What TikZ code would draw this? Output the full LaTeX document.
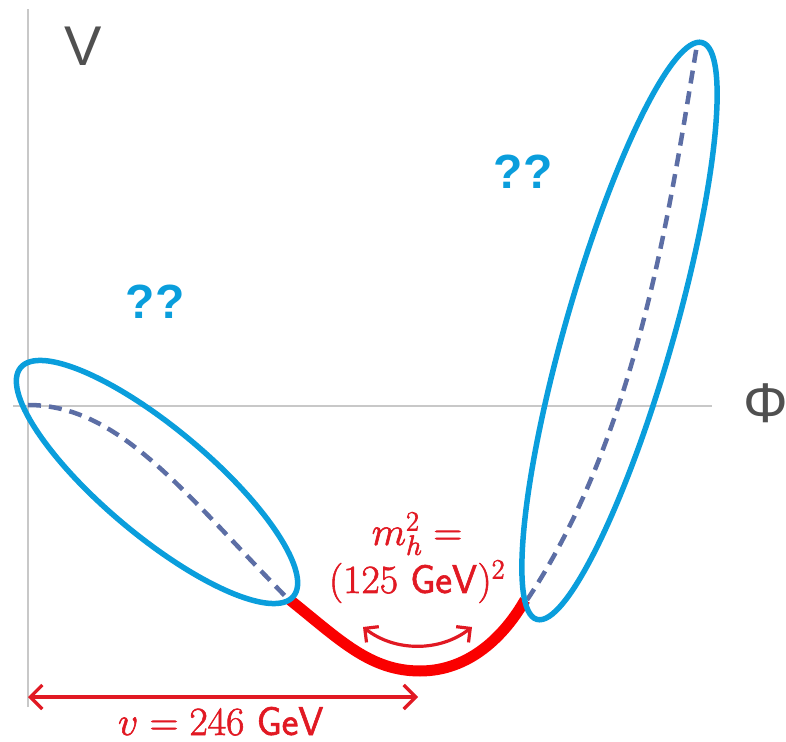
\RequirePackage{fix-cm}
\documentclass[tikz,border=0pt]{standalone}
\usepackage[no-math]{fontspec}
\newfontfamily\arialfont{Liberation Sans}
\usetikzlibrary{arrows.meta}
\definecolor{axisgray}{RGB}{200,200,200}
\definecolor{labelgray}{RGB}{80,80,80}
\definecolor{ellblue}{RGB}{10,158,220}
\definecolor{dashslate}{RGB}{92,110,165}
\definecolor{curvered}{RGB}{250,0,0}
\definecolor{textred}{RGB}{225,25,35}
\newcommand{\heavytext}[1]{\special{pdf:literal direct 2 Tr 0.6 w}#1\special{pdf:literal direct 0 Tr}}
\tikzset{
  axisline/.style={draw=axisgray, line width=1.5pt},
  axislabel/.style={text=labelgray, font=\arialfont\fontsize{56}{60}\selectfont, inner sep=0pt},
  qlabel/.style={text=ellblue, font=\arialfont\bfseries\fontsize{48}{52}\selectfont, inner sep=0pt},
  regionell/.style={draw=ellblue, line width=5.5pt},
  potdash/.style={draw=dashslate, line width=4.5pt, dash pattern=on 13pt off 8pt},
  minimum/.style={draw=curvered, line width=11pt},
  redarrow/.style={draw=textred, line width=3.2pt},
  redtext/.style={text=textred, font=\fontsize{40}{48}\selectfont, inner sep=0pt},
}
\begin{document}
\begin{tikzpicture}[x=1pt,y=1pt]
\useasboundingbox (0,0) rectangle (786,741);
% axes
\coordinate (vtop) at (28,732);
\coordinate (vbot) at (28,34);
\coordinate (hleft) at (13,335);
\coordinate (hright) at (712,335);
\draw[axisline] (vbot) -- (vtop);
\draw[axisline] (hleft) -- (hright);
\node[axislabel] (V) at (83,695) {V};
\node[axislabel] (Phi) at (766,338) {Φ};
% named points
\coordinate (origin) at (28,336);
\coordinate (lend) at (287,143);
\coordinate (rstart) at (527,141);
\coordinate (rtop) at (697,696);
\coordinate (redL) at (290,141);
\coordinate (redR) at (525,141);
\coordinate (redMin) at (420,70);
% dashed potential branches
\draw[potdash] (origin) .. controls (118,336) and (181,252) .. (lend);
\draw[potdash] (rstart) .. controls (640,310) and (672,548) .. (rtop);
% red minimum region
\draw[minimum] (redL) .. controls (340,101) and (370,70) .. (redMin)
  .. controls (470,70) and (505,106) .. (redR);
% ellipses
\draw[regionell] (157,259) ellipse[x radius=178, y radius=53.5, rotate=-40];
\draw[regionell] (619.5,410) ellipse[x radius=300, y radius=54, rotate=74];
% question marks
\node[qlabel] (q1) at (155,439) {??};
\node[qlabel] (q2) at (523,569) {??};
% curvature arrow
\coordinate (cL) at (363,114);
\coordinate (cR) at (472,114);
\draw[redarrow, {Straight Barb[length=10pt,width=20pt]}-{Straight Barb[length=10pt,width=20pt]}]
  (cL) .. controls (395,89) and (440,89) .. (cR);
\node[redtext, anchor=base] (mh) at (417,196) {\heavytext{$m_h^2 =$}};
\node[redtext, anchor=base] (mval) at (417,148) {\heavytext{$(125\ \mathsf{GeV})^2$}};
% vev arrow
\coordinate (vevL) at (28,44);
\coordinate (vevR) at (418,44);
\draw[redarrow, {Straight Barb[length=12pt,width=24pt]}-{Straight Barb[length=12pt,width=24pt]}] (vevL) -- (vevR);
\node[redtext, anchor=base] (vev) at (221,6) {\heavytext{$v = 246\ \mathsf{GeV}$}};
\end{tikzpicture}
\end{document}
